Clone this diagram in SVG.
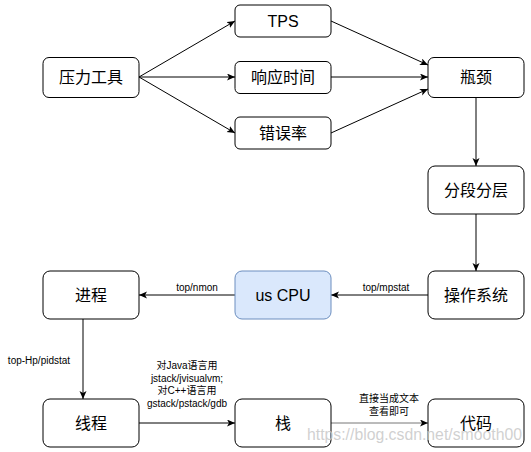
<svg xmlns="http://www.w3.org/2000/svg" width="531" height="452" viewBox="0 0 531 452">
  <defs>
    <marker id="arr" markerUnits="userSpaceOnUse" markerWidth="10" markerHeight="10" refX="8" refY="3.5" orient="auto">
      <path d="M0,0 L8,3.5 L0,7 L2,3.5 Z" fill="#000"/>
    </marker>
    <style>
      .box { fill: #ffffff; stroke: #000000; stroke-width: 1; }
      .blue { fill: #dae8fc; stroke: #6c8ebf; stroke-width: 1; }
      .lbl { font-family: "Liberation Sans", "Noto Sans CJK SC", sans-serif; font-size: 16px; fill: #000; text-anchor: middle; dominant-baseline: central; }
      .el { font-family: "Liberation Sans", "Noto Sans CJK SC", sans-serif; font-size: 10px; fill: #000; text-anchor: middle; }
      .edge { stroke: #000; stroke-width: 1; fill: none; marker-end: url(#arr); }
      .wm { font-family: "Liberation Sans", sans-serif; font-size: 17px; fill: #c8c8c8; fill-opacity: 0.85; }
    </style>
  </defs>
  <rect width="531" height="452" fill="#ffffff"/>

  <g id="connectors">
    <path class="edge" d="M139,77 L235,21"/>
    <path class="edge" d="M139,77 L235,77"/>
    <path class="edge" d="M139,77 L235,133"/>
    <path class="edge" d="M331,21 L428,65"/>
    <path class="edge" d="M331,77 L428,77"/>
    <path class="edge" d="M331,133 L428,89"/>
    <path class="edge" d="M476,97 L476,166"/>
    <path class="edge" d="M476,214 L476,271"/>
    <path class="edge" d="M428,295 L331,295"/>
    <text class="el" x="386" y="291">top/mpstat</text>
    <path class="edge" d="M235,295 L139,295"/>
    <text class="el" x="197" y="291">top/nmon</text>
    <path class="edge" d="M83,319 L83,399"/>
    <text class="el" x="39" y="364">top-Hp/pidstat</text>
    <path class="edge" d="M139,423 L235,423"/>
    <text class="el" x="187" y="369">对Java语言用</text>
    <text class="el" x="187" y="381.5">jstack/jvisualvm;</text>
    <text class="el" x="187" y="394">对C++语言用</text>
    <text class="el" x="187" y="406.5">gstack/pstack/gdb</text>
    <path class="edge" d="M331,423 L428,423" style="stroke:#777"/>
    <text class="el" x="389" y="402">直接当成文本</text>
    <text class="el" x="389" y="415">查看即可</text>
  </g>

  <g id="node-yaligongju"><rect class="box" x="43" y="57.5" width="96" height="40" rx="6"/><text class="lbl" x="91" y="77.5">压力工具</text></g>
  <g id="node-tps"><rect class="box" x="235" y="5" width="96" height="32" rx="5"/><text class="lbl" x="283" y="21">TPS</text></g>
  <g id="node-xiangying"><rect class="box" x="235" y="61.5" width="96" height="32" rx="5"/><text class="lbl" x="283" y="77.5">响应时间</text></g>
  <g id="node-cuowulv"><rect class="box" x="235" y="117" width="96" height="32" rx="5"/><text class="lbl" x="283" y="133">错误率</text></g>
  <g id="node-pingjing"><rect class="box" x="428" y="57.5" width="96" height="40" rx="6"/><text class="lbl" x="476" y="77.5">瓶颈</text></g>
  <g id="node-fenduan"><rect class="box" x="428" y="166" width="96" height="48" rx="7"/><text class="lbl" x="476" y="190">分段分层</text></g>
  <g id="node-caozuo"><rect class="box" x="428" y="271" width="96" height="48" rx="7"/><text class="lbl" x="476" y="295">操作系统</text></g>
  <g id="node-uscpu"><rect class="blue" x="235" y="271" width="96" height="48" rx="7"/><text class="lbl" x="283" y="295">us CPU</text></g>
  <g id="node-jincheng"><rect class="box" x="43" y="271" width="96" height="48" rx="7"/><text class="lbl" x="91" y="295">进程</text></g>
  <g id="node-xiancheng"><rect class="box" x="43" y="399" width="96" height="48" rx="7"/><text class="lbl" x="91" y="423">线程</text></g>
  <g id="node-zhan"><rect class="box" x="235" y="399" width="96" height="48" rx="7"/><text class="lbl" x="283" y="423">栈</text></g>
  <g id="node-daima"><rect class="box" x="428" y="399" width="96" height="48" rx="7"/><text class="lbl" x="476" y="423">代码</text></g>

  <text class="wm" x="307" y="440" textLength="215" lengthAdjust="spacingAndGlyphs">https://blog.csdn.net/smooth00</text>
</svg>
